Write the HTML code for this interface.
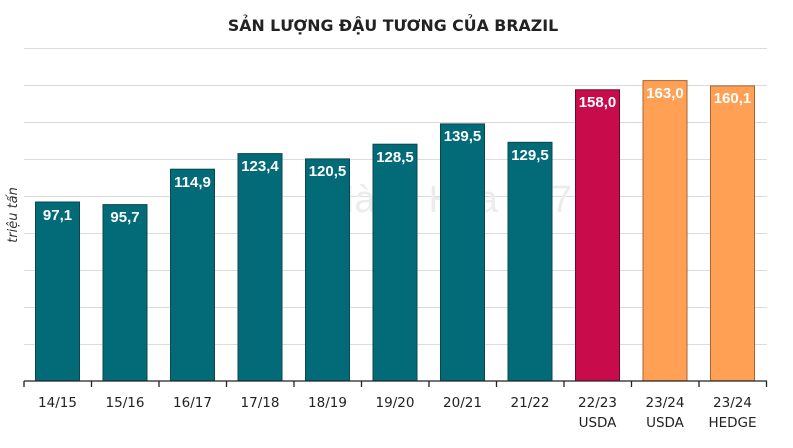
<!DOCTYPE html>
<html><head><meta charset="utf-8"><style>
body{margin:0;background:#fff;}
svg{display:block;font-family:"DejaVu Sans","Liberation Sans",sans-serif;}
</style></head><body>
<svg width="793" height="448" viewBox="0 0 793 448">
<text x="393" y="31" text-anchor="middle" font-size="15.8" font-weight="bold" fill="#222">SẢN LƯỢNG ĐẬU TƯƠNG CỦA BRAZIL</text>
<g stroke="#dcdcdc" stroke-width="1">
<line x1="24" x2="767" y1="48.5" y2="48.5"/>
<line x1="24" x2="767" y1="85.5" y2="85.5"/>
<line x1="24" x2="767" y1="122.5" y2="122.5"/>
<line x1="24" x2="767" y1="159.5" y2="159.5"/>
<line x1="24" x2="767" y1="196.5" y2="196.5"/>
<line x1="24" x2="767" y1="233.5" y2="233.5"/>
<line x1="24" x2="767" y1="270.5" y2="270.5"/>
<line x1="24" x2="767" y1="307.5" y2="307.5"/>
<line x1="24" x2="767" y1="344.5" y2="344.5"/>
</g>
<text x="572" y="212" text-anchor="end" font-size="38" font-family="Liberation Sans" fill="#ececec">Hàng Hóa 247</text>
<text transform="translate(17,215) rotate(-90)" text-anchor="middle" font-size="13" font-style="italic" fill="#333">triệu tấn</text>
<g stroke-width="1">
<rect x="35.5" y="202" width="44" height="179" fill="#036a78" stroke="#0a4750"/>
<rect x="103" y="204.6" width="44" height="176.4" fill="#036a78" stroke="#0a4750"/>
<rect x="170.5" y="169.2" width="44" height="211.8" fill="#036a78" stroke="#0a4750"/>
<rect x="238" y="153.6" width="44" height="227.4" fill="#036a78" stroke="#0a4750"/>
<rect x="305.5" y="158.9" width="44" height="222.1" fill="#036a78" stroke="#0a4750"/>
<rect x="373" y="144.2" width="44" height="236.8" fill="#036a78" stroke="#0a4750"/>
<rect x="440.5" y="123.9" width="44" height="257.1" fill="#036a78" stroke="#0a4750"/>
<rect x="508" y="142.3" width="44" height="238.7" fill="#036a78" stroke="#0a4750"/>
<rect x="575.5" y="89.8" width="44" height="291.2" fill="#c70b4b" stroke="#6a0a28"/>
<rect x="643" y="80.6" width="44" height="300.4" fill="#ffa054" stroke="#a86530"/>
<rect x="710.5" y="85.9" width="44" height="295.1" fill="#ffa054" stroke="#a86530"/>
</g>
<g font-size="15" font-weight="bold" fill="#fff" text-anchor="middle" font-family="Liberation Sans">
<text x="57.5" y="220">97,1</text>
<text x="125" y="222">95,7</text>
<text x="192.5" y="187">114,9</text>
<text x="260" y="171">123,4</text>
<text x="327.5" y="176">120,5</text>
<text x="395" y="162">128,5</text>
<text x="462.5" y="141">139,5</text>
<text x="530" y="160">129,5</text>
<text x="597.5" y="107">158,0</text>
<text x="665" y="98">163,0</text>
<text x="732.5" y="103">160,1</text>
</g>
<g stroke="#222" stroke-width="1.3">
<line x1="24" x2="767" y1="381" y2="381"/>
<line x1="24" x2="24" y1="381" y2="387"/>
<line x1="91.5" x2="91.5" y1="381" y2="387"/>
<line x1="159" x2="159" y1="381" y2="387"/>
<line x1="226.5" x2="226.5" y1="381" y2="387"/>
<line x1="294" x2="294" y1="381" y2="387"/>
<line x1="361.5" x2="361.5" y1="381" y2="387"/>
<line x1="429" x2="429" y1="381" y2="387"/>
<line x1="496.5" x2="496.5" y1="381" y2="387"/>
<line x1="564" x2="564" y1="381" y2="387"/>
<line x1="631.5" x2="631.5" y1="381" y2="387"/>
<line x1="699" x2="699" y1="381" y2="387"/>
<line x1="766.5" x2="766.5" y1="381" y2="387"/>
</g>
<g font-size="13.5" fill="#222" text-anchor="middle">
<text x="57.5" y="407">14/15</text>
<text x="125" y="407">15/16</text>
<text x="192.5" y="407">16/17</text>
<text x="260" y="407">17/18</text>
<text x="327.5" y="407">18/19</text>
<text x="395" y="407">19/20</text>
<text x="462.5" y="407">20/21</text>
<text x="530" y="407">21/22</text>
<text x="597.5" y="407">22/23</text>
<text x="597.5" y="427">USDA</text>
<text x="665" y="407">23/24</text>
<text x="665" y="427">USDA</text>
<text x="732.5" y="407">23/24</text>
<text x="732.5" y="427">HEDGE</text>
</g>
</svg>
</body></html>
